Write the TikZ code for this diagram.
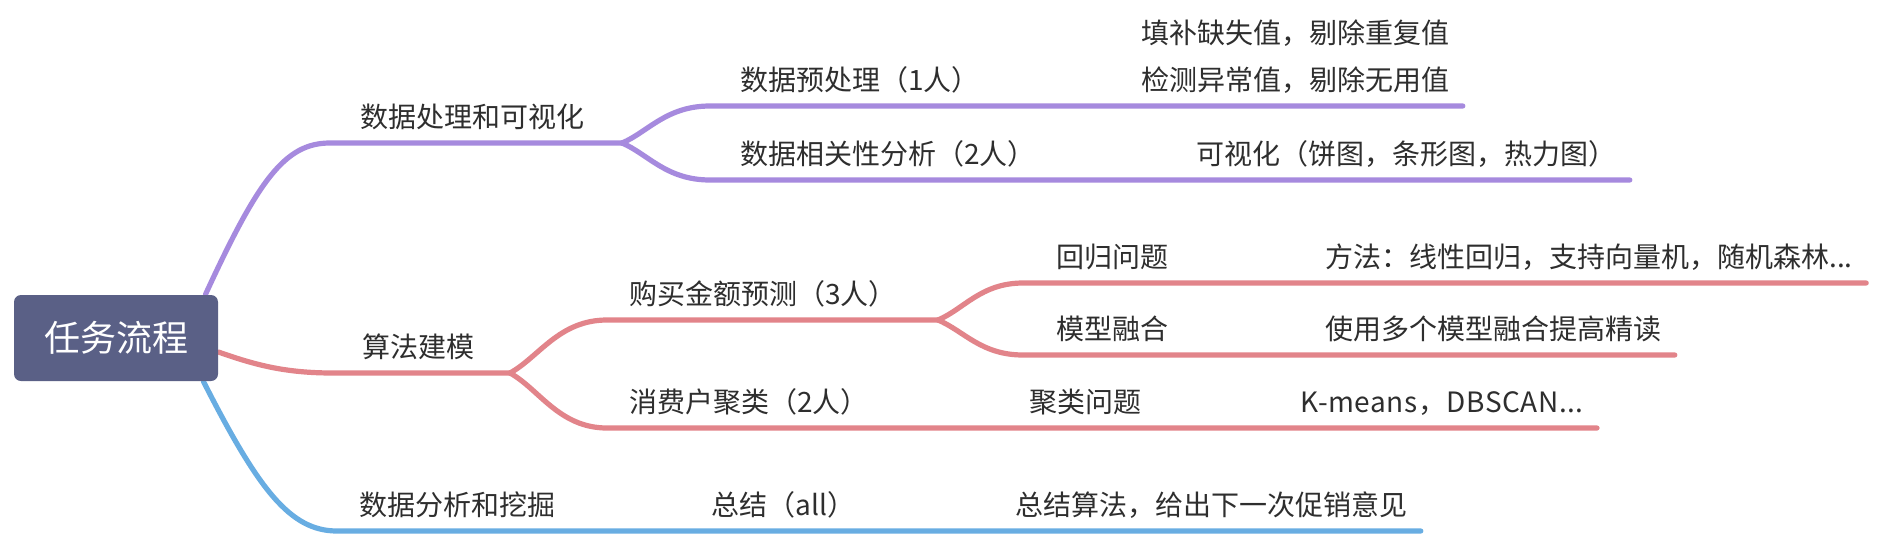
\documentclass[tikz,border=0pt]{standalone}
\usepackage{fontspec}
\setmainfont{Noto Sans CJK SC}
\usepackage{xcolor}
\usetikzlibrary{calc, backgrounds}
\definecolor{PurpleL}{HTML}{A68ADE}
\definecolor{RedL}{HTML}{E2848A}
\definecolor{BlueL}{HTML}{68ADE2}
\definecolor{RootB}{HTML}{5A6086}
\definecolor{TextA}{HTML}{2E2E2E}
\tikzset{
  root/.style={fill=RootB, rounded corners=3.5pt, text=white,
               minimum width=102pt, minimum height=43pt, inner sep=0pt,
               font=\fontsize{18}{20}\selectfont},
  topic/.style={anchor=base west, inner sep=0pt, text=TextA,
                font=\fontsize{14}{16}\selectfont},
  branch/.style={line width=2.6pt, line cap=round},
  purp/.style={branch, draw=PurpleL},
  redb/.style={branch, draw=RedL},
  blueb/.style={branch, draw=BlueL}
}

\begin{document}
\begin{tikzpicture}[x=0.5pt, y=-0.5pt]
  % pixel grid of the reference, y grows downwards
  \useasboundingbox (0,0) rectangle (1878,536);

  % ----- Root -----
  \node[root] (task) at (116,338) {任务流程};

  % ----- First level -----
  \node[topic] (dataviz) at (360,127) {数据处理和可视化};
  \node[topic] (algo)    at (362,357) {算法建模};
  \node[topic] (mining)  at (359,515) {数据分析和挖掘};

  % ----- Data processing branch -----
  \node[topic] (clean)  at (740,90)   {数据预处理（1人）};
  \node[topic] (corr)   at (740,164)  {数据相关性分析（2人）};
  \node[topic] (fill1)  at (1141,43)  {填补缺失值，剔除重复值};
  \node[topic] (fill2)  at (1141,90)  {检测异常值，剔除无用值};
  \node[topic] (visual) at (1196,164) {可视化（饼图，条形图，热力图）};

  % ----- Modelling branch -----
  \node[topic] (predict)  at (629,304)  {购买金额预测（3人）};
  \node[topic] (cluster)  at (629,412)  {消费户聚类（2人）};
  \node[topic] (regr)     at (1056,267) {回归问题};
  \node[topic] (fuse)     at (1056,339) {模型融合};
  \node[topic] (clus)     at (1029,412) {聚类问题};
  \node[topic] (method)   at (1325,267) {方法：线性回归，支持向量机，随机森林...};
  \node[topic] (ensemble) at (1325,339) {使用多个模型融合提高精读};
  \node[topic] (kmeans)   at (1300,412)
    {\addfontfeature{LetterSpace=2}K-means，DBSCAN...};

  % ----- Mining branch -----
  \node[topic] (summary) at (711,515)  {总结（all）};
  \node[topic] (advice)  at (1015,515) {总结算法，给出下一次促销意见};

  % ----- Fork points -----
  \coordinate (dvA) at (330,143);  \coordinate (dvF) at (622,143);
  \coordinate (clA) at (710,106);  \coordinate (coA) at (710,180);
  \coordinate (alA) at (333,373);  \coordinate (alF) at (510,373);
  \coordinate (prA) at (607,320);  \coordinate (prF) at (938,320);
  \coordinate (rgA) at (1023,283); \coordinate (fuA) at (1023,355);
  \coordinate (cuA) at (607,428);
  \coordinate (miA) at (337,531);

  \begin{scope}[on background layer]
    \fill[white] (0,0) rectangle (1878,536);

    % ----- Purple branch -----
    \draw[purp] ($(task.north east)+(-13,0)$)
      .. controls +(53,-115) and +(-45,0) .. (dvA) -- (dvF);
    \draw[purp] (dvF) .. controls +(26,-11) and +(-44,0) .. (clA)
      -- ($(fill2.base east)+(13,16)$);
    \draw[purp] (dvF) .. controls +(26,11) and +(-44,0) .. (coA)
      -- ($(visual.base east)+(13,16)$);

    % ----- Red branch -----
    \draw[redb] ($(task.east)+(0,14)$)
      .. controls +(37,13) and +(-48,0) .. (alA) -- (alF);
    \draw[redb] (alF) .. controls +(29,-16) and +(-48,0) .. (prA) -- (prF);
    \draw[redb] (prF) .. controls +(26,-11) and +(-42,0) .. (rgA)
      -- ($(method.base east)+(13,16)$);
    \draw[redb] (prF) .. controls +(26,11) and +(-42,0) .. (fuA)
      -- ($(ensemble.base east)+(13,16)$);
    \draw[redb] (alF) .. controls +(29,16) and +(-48,0) .. (cuA)
      -- ($(kmeans.base east)+(13,16)$);

    % ----- Blue branch -----
    \draw[blueb] ($(task.south east)+(-15,0)$)
      .. controls +(55,108) and +(-47,0) .. (miA)
      -- ($(advice.base east)+(13,16)$);
  \end{scope}

\end{tikzpicture}
\end{document}
